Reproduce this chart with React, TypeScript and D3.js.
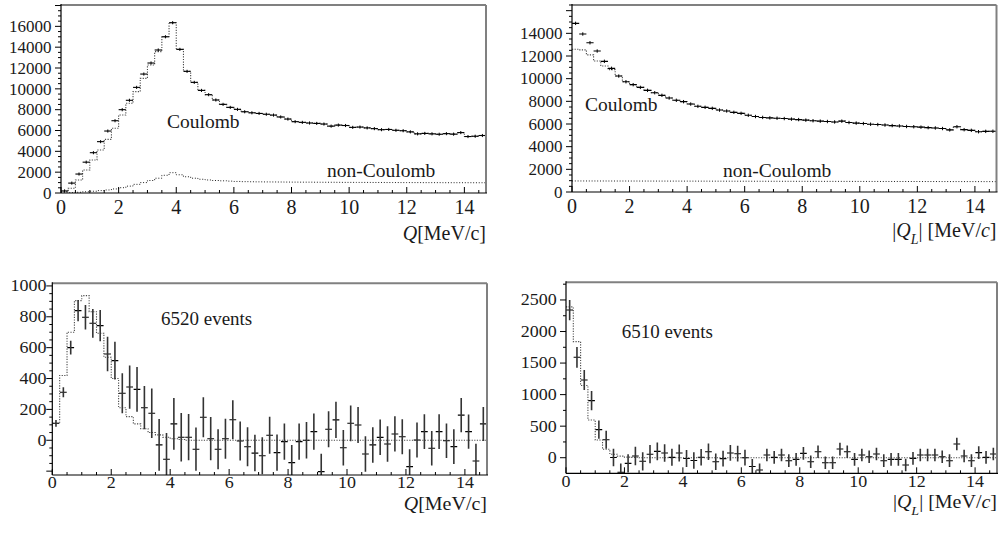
import React from "react";
import * as d3 from "d3";

// ---------- data ----------
const X_MAX = 14.75;
const BIN_W = 0.25;
const N_BINS = 59;

const xTickLabels = [0, 2, 4, 6, 8, 10, 12, 14];
const yTickLabels1 = [0, 2000, 4000, 6000, 8000, 10000, 12000, 14000, 16000];
const yTickLabels2 = [0, 2000, 4000, 6000, 8000, 10000, 12000, 14000];
const yTickLabels3 = [0, 200, 400, 600, 800, 1000];
const yTickLabels4 = [0, 500, 1000, 1500, 2000, 2500];

// Panel 1: Q distribution (data), Coulomb MC head (dotted), non-Coulomb (dotted)
const qData1 = [
  200, 950, 1820, 2960, 3870, 4930, 5950, 6940, 8000, 8900,
  10140, 11420, 12480, 13730, 15000, 16350, 13790, 11680, 10620, 9850,
  9440, 8930, 8510, 8220, 8030, 7800, 7700, 7640, 7560, 7480,
  7300, 7100, 6850, 6780, 6720, 6680, 6620, 6420, 6520, 6480,
  6300, 6330, 6250, 6180, 6080, 6100, 6020, 5980, 5870, 5680,
  5720, 5680, 5640, 5700, 5650, 5800, 5420, 5450, 5520,
];
const coulombHead1 = [130, 450, 1250, 2210, 3170, 4130, 5150, 6210, 7490, 8610, 9730, 11010, 12290, 13570, 15000];
const nonCoulomb1 = [
  10, 30, 70, 120, 170, 230, 290, 390, 510, 660,
  830, 1000, 1200, 1420, 1700, 1950, 1750, 1560, 1420, 1320,
  1250, 1200, 1170, 1140, 1110, 1090, 1080, 1070, 1065, 1060,
  1055, 1050, 1045, 1040, 1040, 1035, 1030, 1030, 1025, 1020,
  1020, 1015, 1015, 1010, 1010, 1005, 1005, 1000, 1000, 1000,
  995, 995, 995, 990, 990, 990, 990, 985, 985,
];

// Panel 2: |Q_L| distribution
const qlData2 = [
  14880, 13940, 13170, 12440, 11530, 10910, 10230, 9730, 9470, 9230,
  8970, 8760, 8530, 8290, 8090, 7970, 7760, 7560, 7470, 7380,
  7230, 7150, 7030, 6940, 6770, 6660, 6580, 6540, 6510, 6480,
  6430, 6390, 6340, 6290, 6250, 6220, 6180, 6250, 6130, 6080,
  6040, 5980, 5950, 5910, 5860, 5830, 5780, 5760, 5720, 5680,
  5650, 5600, 5480, 5760, 5500, 5440, 5320, 5350, 5360,
];
const coulombHead2 = [12590, 12540, 12100, 11560, 11120, 10800];
const nonCoulomb2: [number, number][] = [[0, 975], [4, 960], [8, 942], [12, 925], [14.75, 915]];

// Panel 3: Q, background subtracted, 6520 events
const qData3 = [
  110, 311, 600, 840, 797, 758, 743, 559, 516, 305,
  345, 330, 211, 175, -30, -123, 106, 20, 20, -58,
  149, 10, -58, 10, 133, -5, -42, -83, -100, 33,
  -80, -9, -145, -9, 0, 56, -203, 71, 132, -48,
  110, 99, -89, -30, 19, -24, 41, 23, -171, 2,
  56, -52, 56, -3, -41, 163, 56, -134, 106,
];
const qErr3 = [
  22, 32, 45, 69, 80, 93, 101, 112, 123, 130,
  140, 145, 140, 160, 168, 170, 168, 157, 150, 140,
  130, 140, 130, 130, 127, 126, 127, 118, 120, 120,
  118, 118, 115, 118, 118, 117, 115, 117, 117, 115,
  116, 116, 115, 115, 115, 115, 114, 114, 113, 113,
  113, 112, 112, 112, 112, 111, 111, 111, 110,
];
const qFit3 = [
  110, 420, 700, 905, 937, 833, 693, 538, 400, 211,
  153, 106, 75, 50, 35, 20, 10, 5, 0, 0,
  0, 0, 0, 0, 0, 0, 0, 0, 0, 0,
  0, 0, 0, 0, 0, 0, 0, 0, 0, 0,
  0, 0, 0, 0, 0, 0, 0, 0, 0, 0,
  0, 0, 0, 0, 0, 0, 0, 0, 0,
];

// Panel 4: |Q_L|, background subtracted, 6510 events
const qlData4 = [
  2340, 1591, 1232, 904, 445, 285, 3, -230, -89, 27,
  -57, 56, 100, 75, 6, 74, -13, -45, 8, 95,
  -63, -15, 75, 64, 0, -140, -195, 43, 6, 43,
  -47, -26, 69, -63, 95, -79, -79, 137, 95, -26,
  43, 16, 59, -47, -26, -26, -116, -10, 43, 43,
  43, 16, -47, 217, 27, -47, 80, 6, 59,
];
const qlErr4 = [
  160, 164, 158, 153, 143, 143, 140, 140, 145, 145,
  145, 145, 140, 140, 135, 135, 135, 130, 130, 130,
  130, 125, 125, 125, 125, 120, 105, 100, 100, 100,
  100, 100, 100, 100, 100, 100, 100, 100, 100, 100,
  100, 100, 100, 100, 100, 100, 100, 100, 100, 100,
  100, 100, 100, 100, 100, 100, 100, 100, 100,
];
const qlFit4 = [
  2390, 1840, 1145, 598, 281, 133, 56, 25, 10, 5,
  0, 0, 0, 0, 0, 0, 0, 0, 0, 0,
  0, 0, 0, 0, 0, 0, 0, 0, 0, 0,
  0, 0, 0, 0, 0, 0, 0, 0, 0, 0,
  0, 0, 0, 0, 0, 0, 0, 0, 0, 0,
  0, 0, 0, 0, 0, 0, 0, 0, 0,
];

const edges = d3.range(N_BINS + 1).map((i) => i * BIN_W);

// ---------- layout ----------
const FONT = "'Liberation Serif', 'Times New Roman', Times, serif";

type Note = { text: string; x: number; y: number; size: number };
type PanelCfg = {
  id: string;
  box: { l: number; t: number; r: number; b: number };
  yDomain: [number, number];
  yMajor: number;
  yMinor: number;
  yLabels: number[];
  data: number[];
  err: number[] | null;
  errConst: number;
  fit: number[];
  nonC?: number[];
  nonCLine?: [number, number][];
  bottomRow: boolean;
  tickSy: number;
  textSy: number;
  xLabelSize: number;
  xLabelDy: number;
  yLabelSize: number;
  yLabelGap: number;
  title: "Q" | "QL";
  titleY: number;
  notes: Note[];
};

const panels: PanelCfg[] = [
  {
    id: "p1",
    box: { l: 61, t: 5, r: 486, b: 193 },
    yDomain: [0, 18050],
    yMajor: 2000,
    yMinor: 500,
    yLabels: yTickLabels1,
    data: qData1,
    err: null,
    errConst: 150,
    fit: [...coulombHead1, ...qData1.slice(coulombHead1.length)],
    nonC: nonCoulomb1,
    bottomRow: false,
    tickSy: 1,
    textSy: 1,
    xLabelSize: 20,
    xLabelDy: 20.5,
    yLabelSize: 17,
    yLabelGap: 9.5,
    title: "Q",
    titleY: 240,
    notes: [
      { text: "Coulomb", x: 167, y: 128, size: 19.5 },
      { text: "non-Coulomb", x: 327, y: 176.5, size: 19.5 },
    ],
  },
  {
    id: "p2",
    box: { l: 572, t: 5, r: 996.5, b: 192 },
    yDomain: [0, 16500],
    yMajor: 2000,
    yMinor: 500,
    yLabels: yTickLabels2,
    data: qlData2,
    err: null,
    errConst: 150,
    fit: [...coulombHead2, ...qlData2.slice(coulombHead2.length)],
    nonCLine: nonCoulomb2,
    bottomRow: false,
    tickSy: 1,
    textSy: 1,
    xLabelSize: 20,
    xLabelDy: 21,
    yLabelSize: 17,
    yLabelGap: 9.5,
    title: "QL",
    titleY: 237,
    notes: [
      { text: "Coulomb", x: 585, y: 111, size: 19.5 },
      { text: "non-Coulomb", x: 723, y: 176.5, size: 19.5 },
    ],
  },
  {
    id: "p3",
    box: { l: 52.3, t: 283.3, r: 487, b: 475 },
    yDomain: [-225, 1017],
    yMajor: 200,
    yMinor: 50,
    yLabels: yTickLabels3,
    data: qData3,
    err: qErr3,
    errConst: 0,
    fit: qFit3,
    bottomRow: true,
    tickSy: 0.88,
    textSy: 0.95,
    xLabelSize: 18,
    xLabelDy: 13,
    yLabelSize: 18,
    yLabelGap: 5.8,
    title: "Q",
    titleY: 510,
    notes: [{ text: "6520 events", x: 161, y: 325, size: 19 }],
  },
  {
    id: "p4",
    box: { l: 566, t: 282.3, r: 997, b: 473.3 },
    yDomain: [-247, 2780],
    yMajor: 500,
    yMinor: 250,
    yLabels: yTickLabels4,
    data: qlData4,
    err: qlErr4,
    errConst: 0,
    fit: qlFit4,
    bottomRow: true,
    tickSy: 0.88,
    textSy: 0.95,
    xLabelSize: 18,
    xLabelDy: 13.6,
    yLabelSize: 18,
    yLabelGap: 9.3,
    title: "QL",
    titleY: 508,
    notes: [{ text: "6510 events", x: 621.7, y: 338.3, size: 19 }],
  },
];

function Txt(props: {
  x: number;
  y: number;
  sy: number;
  size: number;
  anchor?: "start" | "middle" | "end";
  children: React.ReactNode;
}) {
  const { x, y, sy, size, anchor = "start", children } = props;
  return (
    <text
      transform={`translate(${x},${y}) scale(1,${sy})`}
      fontSize={size}
      fontFamily={FONT}
      textAnchor={anchor}
      fill="#1a1a1a"
    >
      {children}
    </text>
  );
}

function Panel({ c }: { c: PanelCfg }) {
  const { l, t, r, b } = c.box;
  const x = d3.scaleLinear().domain([0, X_MAX]).range([l, r]);
  const y = d3.scaleLinear().domain(c.yDomain).range([b, t]);

  const histPts = (vals: number[]): [number, number][] => {
    const pts: [number, number][] = vals.map((v, i) => [edges[i], v]);
    pts.push([edges[vals.length], vals[vals.length - 1]]);
    return pts;
  };
  const step = d3
    .line<[number, number]>()
    .x((d) => x(d[0]))
    .y((d) => y(d[1]))
    .curve(d3.curveStepAfter);
  const plain = d3
    .line<[number, number]>()
    .x((d) => x(d[0]))
    .y((d) => y(d[1]));

  const xMinor = d3.range(0, X_MAX + 1e-6, 0.5);
  const yStart = Math.ceil(c.yDomain[0] / c.yMinor) * c.yMinor;
  const yMinor = d3.range(yStart, c.yDomain[1] + 1e-6, c.yMinor);
  const isMajorY = (v: number) => Math.abs(v % c.yMajor) < 1e-6;
  const isMajorX = (v: number) => Math.abs(v % 2) < 1e-6;
  const clipId = `clip-${c.id}`;
  const bottomRow = c.bottomRow;

  return (
    <g>
      <defs>
        <clipPath id={clipId}>
          <rect x={l} y={t} width={r - l} height={b - t} />
        </clipPath>
      </defs>
      <g clipPath={`url(#${clipId})`}>
        {/* Coulomb / MC histogram, dotted */}
        <path
          d={step(histPts(c.fit)) || ""}
          fill="none"
          stroke="#4a4a4a"
          strokeWidth={1.1}
          strokeDasharray="1.2 1.4"
        />
        {c.nonC && (
          <path
            d={step(histPts(c.nonC)) || ""}
            fill="none"
            stroke="#222"
            strokeWidth={1}
            strokeDasharray="1 1.8"
          />
        )}
        {c.nonCLine && (
          <path
            d={plain(c.nonCLine) || ""}
            fill="none"
            stroke="#222"
            strokeWidth={1}
            strokeDasharray="1 1.8"
          />
        )}
        {/* data points with error bars */}
        {c.data.map((v, i) => {
          const e = c.err ? c.err[i] : c.errConst;
          const xc = x(edges[i] + BIN_W / 2);
          return (
            <g key={i}>
              <line
                x1={x(edges[i]) + (bottomRow ? 0.3 : 0)}
                x2={x(edges[i + 1]) - (bottomRow ? 0.3 : 0)}
                y1={y(v)}
                y2={y(v)}
                stroke="#000"
                strokeWidth={1.1}
              />
              <line
                x1={xc}
                x2={xc}
                y1={y(v - e)}
                y2={y(v + e)}
                stroke={bottomRow ? "#333" : "#000"}
                strokeWidth={bottomRow ? 1.6 : 1}
              />
            </g>
          );
        })}
      </g>

      {/* frame */}
      <line x1={l} x2={r} y1={t} y2={t} stroke="#808080" strokeWidth={2} />
      <line x1={r} x2={r} y1={t} y2={b} stroke="#808080" strokeWidth={2} />
      <line x1={l} x2={l} y1={t - 1} y2={b} stroke="#000" strokeWidth={1.2} />
      <line x1={l} x2={r + 1} y1={b} y2={b} stroke="#000" strokeWidth={1.2} />

      {/* y ticks (outside, left) */}
      {yMinor.map((v) => (
        <line
          key={`yt${v}`}
          x1={l - (isMajorY(v) ? 6 : 3)}
          x2={l}
          y1={y(v)}
          y2={y(v)}
          stroke="#000"
          strokeWidth={1}
        />
      ))}
      {/* x ticks (inside, up) */}
      {xMinor.map((v) => (
        <line
          key={`xt${v}`}
          x1={x(v)}
          x2={x(v)}
          y1={b}
          y2={b - (isMajorX(v) ? 6 : 3)}
          stroke="#000"
          strokeWidth={1}
        />
      ))}

      {/* tick labels */}
      {c.yLabels.map((v) => (
        <Txt
          key={`yl${v}`}
          x={l - c.yLabelGap}
          y={y(v) + 0.34 * c.yLabelSize * c.tickSy}
          sy={c.tickSy}
          size={c.yLabelSize}
          anchor="end"
        >
          {String(v)}
        </Txt>
      ))}
      {xTickLabels.map((v) => (
        <Txt
          key={`xl${v}`}
          x={x(v)}
          y={b + c.xLabelDy}
          sy={c.tickSy}
          size={c.xLabelSize}
          anchor="middle"
        >
          {String(v)}
        </Txt>
      ))}

      {/* axis title */}
      <Txt x={r} y={c.titleY} sy={c.textSy} size={20} anchor="end">
        {c.title === "Q" ? (
          <>
            <tspan fontStyle="italic">Q</tspan>
            <tspan>[MeV/c]</tspan>
          </>
        ) : (
          <>
            <tspan>|</tspan>
            <tspan fontStyle="italic">Q</tspan>
            <tspan fontStyle="italic" fontSize={14} dy={7}>
              L
            </tspan>
            <tspan dy={-7}>| [MeV/</tspan>
            <tspan fontStyle="italic">c</tspan>
            <tspan>]</tspan>
          </>
        )}
      </Txt>

      {/* annotations */}
      {c.notes.map((n) => (
        <Txt key={n.text} x={n.x} y={n.y} sy={c.textSy} size={n.size}>
          {n.text}
        </Txt>
      ))}
    </g>
  );
}

export default function App() {
  return (
    <svg
      width={999}
      height={538}
      viewBox="0 0 999 538"
      style={{ position: "absolute", left: 0, top: 0, background: "#fff" }}
    >
      <rect x={0} y={0} width={999} height={538} fill="#fff" />
      {panels.map((p) => (
        <Panel key={p.id} c={p} />
      ))}
    </svg>
  );
}
